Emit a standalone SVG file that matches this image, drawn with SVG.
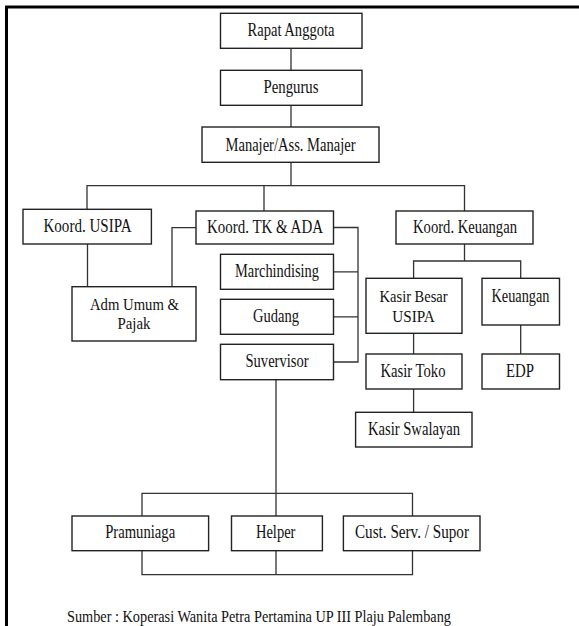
<svg xmlns="http://www.w3.org/2000/svg" width="579" height="626" viewBox="0 0 579 626">
<style>
.b{fill:#fff;stroke:#222;stroke-width:1.4}
.c{fill:none;stroke:#333;stroke-width:1.3}
</style>
<rect width="579" height="626" fill="#fff"/>
<path d="M6.5,626 V7 H579" fill="none" stroke="#000" stroke-width="3"/>
<g id="connectors" class="c">
<path d="M291,48.3 V70.3 M291,105.3 V127 M291,162.3 V185.7 M87,209.3 V185.7 H464.5 V211 M264,185.7 V211"/>
<path d="M87.5,244 V286.7 M196,227.7 H172 V286.7"/>
<path d="M333.5,227.5 H358 V362 H333.5 M333.5,271.8 H358 M333.5,316.8 H358"/>
<path d="M464.5,244 V261 M413.6,278.3 V261 H520.7 V278.3"/>
<path d="M413.6,333.3 V354 M413.6,389 V412.3 M520.7,325 V354"/>
<path d="M276,379.7 V516 M142,516 V493.3 H412.5 V516 M142,550.7 V574.7 H412.5 V550.7 M276,550.7 V574.7"/>
</g>
<g font-family="Liberation Serif, Times New Roman, serif" font-size="19" fill="#111" text-anchor="middle">
<g id="rapat"><rect class="b" x="220.5" y="13.3" width="141.5" height="35"/><text x="291" y="36" textLength="87" lengthAdjust="spacingAndGlyphs">Rapat Anggota</text></g>
<g id="pengurus"><rect class="b" x="220.5" y="70.3" width="141.5" height="35"/><text x="291" y="93" textLength="55" lengthAdjust="spacingAndGlyphs">Pengurus</text></g>
<g id="manajer"><rect class="b" x="202" y="127" width="177" height="35.3"/><text x="290.5" y="150.5" textLength="130" lengthAdjust="spacingAndGlyphs">Manajer/Ass. Manajer</text></g>
<g id="koord-usipa"><rect class="b" x="23" y="209.3" width="128.4" height="34.7"/><text x="87.5" y="232.2" textLength="88" lengthAdjust="spacingAndGlyphs">Koord. USIPA</text></g>
<g id="koord-tk"><rect class="b" x="196" y="211" width="137.5" height="33"/><text x="265" y="233" textLength="116" lengthAdjust="spacingAndGlyphs">Koord. TK &amp; ADA</text></g>
<g id="koord-keuangan"><rect class="b" x="396" y="211" width="137" height="33"/><text x="465" y="233" textLength="104" lengthAdjust="spacingAndGlyphs">Koord. Keuangan</text></g>
<g id="adm" font-size="17"><rect class="b" x="72" y="286.7" width="124" height="54.3"/><text x="134.5" y="309.5" textLength="89" lengthAdjust="spacingAndGlyphs">Adm Umum &amp;</text><text x="134" y="328.8" textLength="33" lengthAdjust="spacingAndGlyphs">Pajak</text></g>
<g id="marchindising"><rect class="b" x="220.5" y="254.3" width="113" height="35"/><text x="277" y="277.2" textLength="84" lengthAdjust="spacingAndGlyphs">Marchindising</text></g>
<g id="gudang"><rect class="b" x="220.5" y="299.3" width="113" height="35"/><text x="276" y="322.2" textLength="46" lengthAdjust="spacingAndGlyphs">Gudang</text></g>
<g id="suvervisor"><rect class="b" x="220.5" y="344.3" width="113" height="35.4"/><text x="277" y="367.2" textLength="63" lengthAdjust="spacingAndGlyphs">Suvervisor</text></g>
<g id="kasir-besar" font-size="17"><rect class="b" x="366" y="278.3" width="96" height="55"/><text x="413.6" y="302.3" textLength="68" lengthAdjust="spacingAndGlyphs">Kasir Besar</text><text x="413.6" y="321.8" textLength="42.5" lengthAdjust="spacingAndGlyphs">USIPA</text></g>
<g id="keuangan"><rect class="b" x="482" y="278.3" width="77.5" height="46.7"/><text x="520.5" y="302" textLength="58" lengthAdjust="spacingAndGlyphs">Keuangan</text></g>
<g id="kasir-toko"><rect class="b" x="366" y="354" width="96" height="35"/><text x="413" y="377.2" textLength="65" lengthAdjust="spacingAndGlyphs">Kasir Toko</text></g>
<g id="edp"><rect class="b" x="482" y="354" width="77.5" height="35"/><text x="520" y="377.2" textLength="28" lengthAdjust="spacingAndGlyphs">EDP</text></g>
<g id="kasir-swalayan"><rect class="b" x="355.6" y="412.3" width="116.4" height="34.7"/><text x="414" y="434.8" textLength="92" lengthAdjust="spacingAndGlyphs">Kasir Swalayan</text></g>
<g id="pramuniaga"><rect class="b" x="72" y="516" width="136.6" height="34.7"/><text x="140.2" y="538.2" textLength="70" lengthAdjust="spacingAndGlyphs">Pramuniaga</text></g>
<g id="helper"><rect class="b" x="231.5" y="516" width="90.9" height="34.7"/><text x="275.7" y="538.2" textLength="39.5" lengthAdjust="spacingAndGlyphs">Helper</text></g>
<g id="cust-serv"><rect class="b" x="343.4" y="516" width="136.6" height="34.7"/><text x="412" y="538.2" textLength="114" lengthAdjust="spacingAndGlyphs">Cust. Serv. / Supor</text></g>
<text x="67" y="622" text-anchor="start" font-size="17.5" textLength="384" lengthAdjust="spacingAndGlyphs">Sumber : Koperasi Wanita Petra Pertamina UP III Plaju Palembang</text>
</g>
</svg>
